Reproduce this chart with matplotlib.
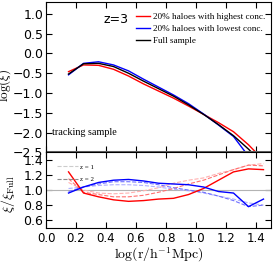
import matplotlib
matplotlib.use("Agg")
import matplotlib.pyplot as plt
import numpy as np

plt.rcParams['mathtext.fontset'] = 'cm'
plt.rcParams['xtick.direction'] = 'in'
plt.rcParams['ytick.direction'] = 'in'

# log(r) bins
logr = [0.15, 0.25, 0.35, 0.45, 0.55, 0.65, 0.75, 0.85, 0.95, 1.05, 1.15, 1.25, 1.35, 1.45]

# top panel: log(xi), z=3
xi_high = [-0.46, -0.29, -0.30, -0.40, -0.57, -0.77, -0.95, -1.13, -1.33, -1.54, -1.75, -1.98, -2.31, -2.70]
xi_low = [-0.54, -0.25, -0.21, -0.29, -0.44, -0.65, -0.85, -1.05, -1.27, -1.53, -1.81, -2.10, -2.60, -2.90]
xi_full = [-0.52, -0.26, -0.25, -0.33, -0.50, -0.70, -0.89, -1.08, -1.30, -1.54, -1.80, -2.08, -2.42, -2.80]

# bottom panel: ratio to full sample
ratio_high_z3 = [1.24, 0.96, 0.91, 0.87, 0.85, 0.86, 0.88, 0.89, 0.94, 1.02, 1.13, 1.24, 1.28, 1.27]
ratio_low_z3 = [0.96, 1.04, 1.10, 1.13, 1.14, 1.12, 1.09, 1.08, 1.07, 1.04, 0.98, 0.96, 0.78, 0.88]
ratio_high_z2 = [1.15, 0.97, 0.94, 0.91, 0.91, 0.93, 0.97, 1.02, 1.08, 1.13, 1.20, 1.27, 1.33, 1.32]
ratio_low_z2 = [0.98, 1.04, 1.08, 1.11, 1.11, 1.10, 1.07, 1.03, 1.00, 0.97, 0.92, 0.86, 0.78, 0.80]
ratio_high_z1 = [1.10, 1.00, 0.96, 0.95, 0.96, 0.99, 1.03, 1.09, 1.13, 1.16, 1.22, 1.27, 1.33, 1.35]
ratio_low_z1 = [1.02, 1.04, 1.06, 1.07, 1.07, 1.06, 1.04, 1.01, 0.99, 0.96, 0.92, 0.88, 0.83, 0.80]

serif = 'Liberation Serif'

fig = plt.figure(figsize=(2.74, 2.63), dpi=100)
ax1 = fig.add_axes([0.168, 0.421, 0.821, 0.571])
ax2 = fig.add_axes([0.168, 0.134, 0.821, 0.287])

ax1.plot(logr, xi_high, color='red', lw=1, label='20% haloes with highest conc.')
ax1.plot(logr, xi_low, color='blue', lw=1, label='20% haloes with lowest conc.')
ax1.plot(logr, xi_full, color='black', lw=1, label='Full sample')
ax1.axhline(-2.5, color='0.4', lw=2.2)
ax1.set_xlim(0, 1.5)
ax1.set_ylim(-2.5, 1.3)
ax1.set_yticks(np.arange(-2.5, 1.01, 0.5))
ax1.set_xticks(np.arange(0, 1.41, 0.2))
ax1.set_xticklabels([])
ax1.tick_params(top=True, right=True, labelsize=9, length=4, pad=2)
ax1.set_ylabel(r'$\log(\xi)$', fontsize=9.5)
ax1.yaxis.set_label_coords(-0.145, 0.45)
ax1.text(0.38, 0.76, 'z=3', fontsize=9)
ax1.text(0.04, -2.0, 'tracking sample', family=serif, fontsize=7.3, va='center')
ax1.legend(loc='upper right', frameon=False, prop={'family': serif, 'size': 6.6},
           handlelength=1.6, handletextpad=0.25, labelspacing=0.4,
           borderaxespad=0.35, borderpad=0.3, bbox_to_anchor=(1.0, 0.97))

ax2.axhline(1.0, color='0.7', lw=0.8)
ax2.plot(logr, ratio_high_z1, color='#ffb0b0', lw=0.8, ls='--')
ax2.plot(logr, ratio_low_z1, color='#b0b0ff', lw=0.8, ls='--')
ax2.plot(logr, ratio_high_z2, color='#ff7070', lw=0.8, ls='--')
ax2.plot(logr, ratio_low_z2, color='#7070ff', lw=0.8, ls='--')
ax2.plot(logr, ratio_high_z3, color='red', lw=1)
ax2.plot(logr, ratio_low_z3, color='blue', lw=1)
ax2.plot([], [], color='0.8', lw=0.8, ls='--', label='z = 1')
ax2.plot([], [], color='0.55', lw=0.8, ls='--', label='z = 2')
ax2.set_xlim(0, 1.5)
ax2.set_ylim(0.5, 1.5)
ax2.set_yticks([0.6, 0.8, 1.0, 1.2, 1.4])
ax2.set_xticks(np.arange(0, 1.41, 0.2))
ax2.tick_params(top=True, right=True, length=4, pad=2)
ax2.tick_params(axis='y', labelsize=9)
ax2.tick_params(axis='x', labelsize=8.5, pad=3)
ax2.set_ylabel(r'$\xi/\xi_{\rm Full}$', fontsize=10)
ax2.yaxis.set_label_coords(-0.13, 0.45)
ax2.set_xlabel(r'$\log(\mathrm{r/h^{-1}Mpc})$', fontsize=10, labelpad=0.5)
ax2.legend(loc='upper left', frameon=False, prop={'family': serif, 'size': 5},
           handlelength=3, handletextpad=0.3, labelspacing=0.9,
           borderaxespad=0.2, bbox_to_anchor=(0.03, 0.9))

fig.savefig('out.png', dpi=100)
